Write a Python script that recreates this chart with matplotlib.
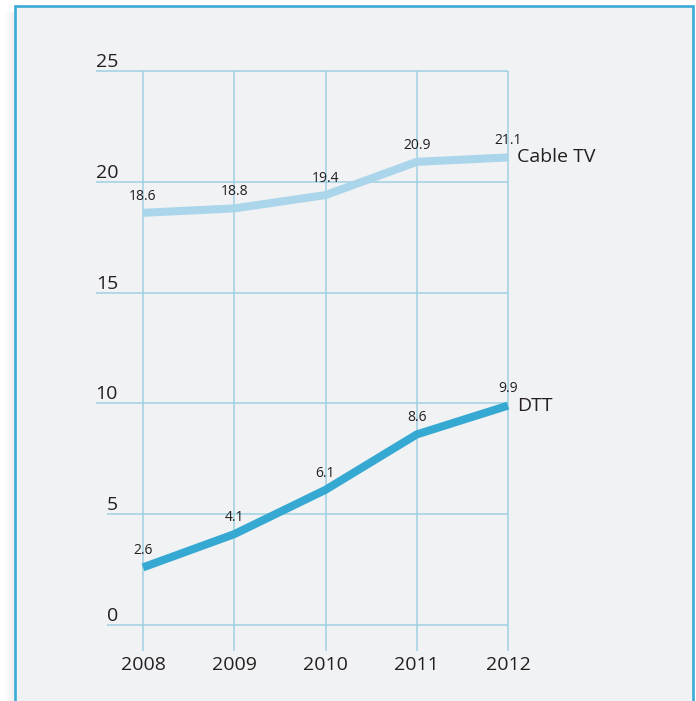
import matplotlib.pyplot as plt
from matplotlib.patches import Rectangle

years = [2008, 2009, 2010, 2011, 2012]
cable_tv = [18.6, 18.8, 19.4, 20.9, 21.1]
dtt = [2.6, 4.1, 6.1, 8.6, 9.9]
y_ticks = [0, 5, 10, 15, 20, 25]
series = [("Cable TV", cable_tv, "#aad5ea"), ("DTT", dtt, "#36a9d3")]

W, H = 696, 701
FONT = ["Open Sans", "DejaVu Sans"]
TEXT_COLOR = "#231f20"
GRID_COLOR = "#9fd0e4"

fig = plt.figure(figsize=(W / 100, H / 100), dpi=100, facecolor="white")

# soft shadow left of the panel, then the panel with its blue frame (behind the axes)
for i in range(9):
    fig.patches.append(Rectangle(((5 + i) / W, -0.05), 1 / W, (H - 12) / H + 0.05,
                                 transform=fig.transFigure, facecolor="#7a7a7a",
                                 alpha=0.015 + 0.012 * i, edgecolor="none", zorder=-2))
fig.patches.append(Rectangle((15 / W, -0.05), (693 - 15) / W, (H - 6) / H + 0.05,
                             transform=fig.transFigure, facecolor="#f1f2f4",
                             edgecolor="#3aaad6", linewidth=1.9, zorder=-1))

ax = fig.add_axes([0, 0, 1, 1])
ax.patch.set_alpha(0)
# layout in pixels: 2008 -> x 143, 2012 -> x 508; value 0 -> y 625, 25 -> y 71 (from top)
px_year = (508 - 143) / (years[-1] - years[0])
px_unit = (625 - 71) / 25
ax.set_xlim(years[0] - 143 / px_year, years[0] + (W - 143) / px_year)
ax.set_ylim(-(H - 625) / px_unit, 25 + 71 / px_unit)
ax.axis("off")

renderer = fig.canvas.get_renderer()
label_right = ax.get_xlim()[0] + 118 / px_year
for t in y_ticks:
    txt = ax.text(label_right, t + 4 / px_unit, str(t), ha="right", va="baseline",
                  fontsize=14, family=FONT, color=TEXT_COLOR)
    x0 = txt.get_window_extent(renderer).x0
    x_start = ax.transData.inverted().transform((x0, 0))[0]
    ax.hlines(t, x_start, years[-1], color=GRID_COLOR, linewidth=1.1, zorder=1)

ax.vlines(years, -26 / px_unit, 25, color=GRID_COLOR, linewidth=1.1, zorder=1)
for yr in years:
    ax.text(yr, -40 / px_unit, str(yr), ha="center", va="center",
            fontsize=14, family=FONT, color=TEXT_COLOR)

for name, values, color in series:
    ax.plot(years, values, color=color, linewidth=5.8, solid_capstyle="butt",
            solid_joinstyle="round", zorder=3)
    for yr, v in zip(years, values):
        ax.annotate(f"{v:.1f}", (yr, v), xytext=(0, 12), textcoords="offset points",
                    ha="center", va="center", fontsize=10, family=FONT,
                    color=TEXT_COLOR, zorder=4)
    ax.text(years[-1] + 9 / px_year, values[-1], name, ha="left", va="center",
            fontsize=14, family=FONT, color=TEXT_COLOR, zorder=4)

fig.savefig("out.png", dpi=100, facecolor=fig.get_facecolor())
